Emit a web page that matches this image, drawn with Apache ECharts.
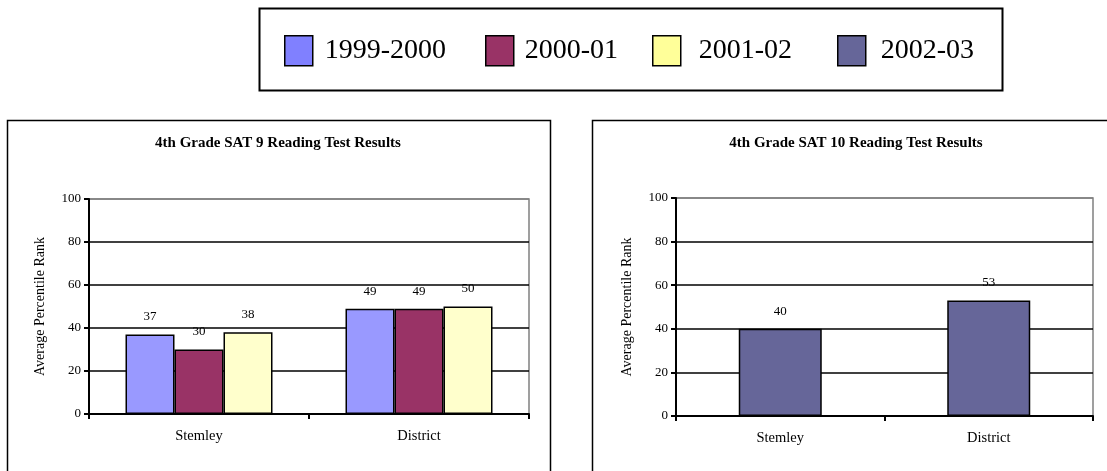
<!DOCTYPE html>
<html><head><meta charset="utf-8">
<script src="https://cdn.jsdelivr.net/npm/echarts@6/dist/echarts.min.js"></script>
<style>html,body{margin:0;padding:0;background:#fff}#c{width:1107px;height:471px}</style>
</head><body><div id="c"></div>
<script>
const categories = ['Stemley', 'District'];
const sat9Series = ['1999-2000', '2000-01', '2001-02'];
const sat9Values = [[37, 49], [30, 49], [38, 50]];
const sat10Series = '2002-03';
const sat10Values = [40, 53];
const yTicks = [0, 20, 40, 60, 80, 100];
const barColors = ['#9999FF', '#993366', '#FFFFCC', '#666699'];
const legendColors = ['#8080FF', '#993366', '#FFFF99', '#666699'];
const legendNames = ['1999-2000', '2000-01', '2001-02', '2002-03'];
const titles = ['4th Grade SAT 9 Reading Test Results', '4th Grade SAT 10 Reading Test Results'];

const F = 'Liberation Serif';
const chart = echarts.init(document.getElementById('c'));
const legendLefts = [284, 485, 652, 837];
const legendTextPad = [7, 6, 13, 10];

function yAx(gi) {
  return {
    type: 'value', gridIndex: gi, min: yTicks[0], max: yTicks[yTicks.length - 1], interval: 20,
    axisLine: { show: true, lineStyle: { color: '#000', width: 2 } },
    axisTick: { show: true, length: 5, lineStyle: { color: '#000', width: 2 } },
    axisLabel: { color: '#000', fontFamily: F, fontSize: 13, margin: 8 },
    splitLine: { show: true, lineStyle: { color: ['#000', '#000', '#000', '#000', '#000', '#808080'], width: 1.5 } },
    name: 'Average Percentile Rank', nameLocation: 'middle', nameGap: 42, nameRotate: 90,
    nameTextStyle: { color: '#000', fontFamily: F, fontSize: 14 }
  };
}
function xAx(gi) {
  return {
    type: 'category', gridIndex: gi, data: categories,
    axisLine: { show: true, lineStyle: { color: '#000', width: 2 } },
    axisTick: { show: true, length: 5, interval: 0, lineStyle: { color: '#000', width: 2 } },
    axisLabel: { color: '#000', fontFamily: F, fontSize: 14.5, margin: 15 }
  };
}
const labelCfg = { show: true, position: 'top', distance: 11, color: '#000', fontFamily: F, fontSize: 13 };

const series = sat9Series.map((n, i) => ({
  name: n, type: 'bar', xAxisIndex: 0, yAxisIndex: 0, data: sat9Values[i],
  barWidth: 49, barGap: '0%',
  itemStyle: { color: barColors[i], borderColor: '#000', borderWidth: 1.5 },
  label: labelCfg
}));
series.push({
  name: sat10Series, type: 'bar', xAxisIndex: 1, yAxisIndex: 1, data: sat10Values,
  barWidth: 83,
  itemStyle: { color: barColors[3], borderColor: '#000', borderWidth: 1.5 },
  label: labelCfg
});

chart.setOption({
  animation: false,
  title: [
    { text: titles[0], left: 273, top: 131, textAlign: 'center', textStyle: { fontFamily: F, fontSize: 15, fontWeight: 'bold', color: '#000' } },
    { text: titles[1], left: 851, top: 131, textAlign: 'center', textStyle: { fontFamily: F, fontSize: 15, fontWeight: 'bold', color: '#000' } }
  ],
  legend: legendNames.map((n, i) => ({
    left: legendLefts[i], top: 35, padding: 0, itemWidth: 28, itemHeight: 30, icon: 'rect',
    selectedMode: false,
    data: [{ name: n, itemStyle: { color: legendColors[i], borderColor: '#000', borderWidth: 1.5 } }],
    textStyle: { fontFamily: F, fontSize: 28, color: '#000', padding: [0, 0, 0, legendTextPad[i]] }
  })),
  grid: [
    { left: 89, top: 199, width: 440, height: 215, show: true, borderColor: '#808080', borderWidth: 1.5, backgroundColor: 'transparent' },
    { left: 676, top: 198, width: 417, height: 218, show: true, borderColor: '#808080', borderWidth: 1.5, backgroundColor: 'transparent' }
  ],
  xAxis: [xAx(0), xAx(1)],
  yAxis: [yAx(0), yAx(1)],
  series: series,
  graphic: [
    { type: 'rect', shape: { x: 259.5, y: 8.5, width: 743, height: 82 }, style: { fill: 'none', stroke: '#000', lineWidth: 2 }, z: -1 },
    { type: 'rect', shape: { x: 7.5, y: 120.5, width: 543, height: 380 }, style: { fill: 'none', stroke: '#000', lineWidth: 1.5 }, z: -1 },
    { type: 'rect', shape: { x: 592.5, y: 120.5, width: 560, height: 380 }, style: { fill: 'none', stroke: '#000', lineWidth: 1.5 }, z: -1 }
  ]
});
</script></body></html>
